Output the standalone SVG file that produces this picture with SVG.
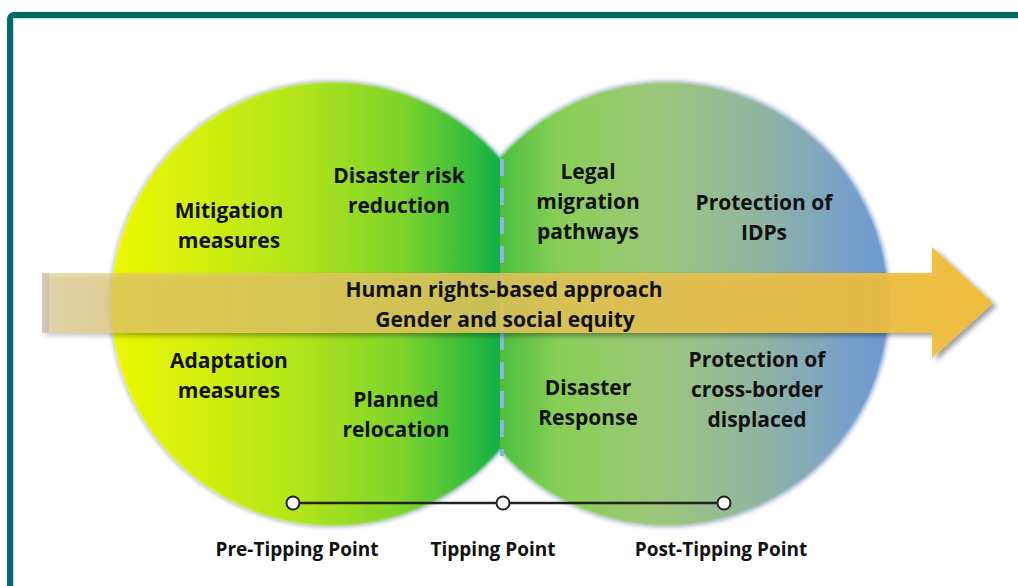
<svg xmlns="http://www.w3.org/2000/svg" width="1018" height="586" viewBox="0 0 1018 586">
  <style>
    .lbl { font-family: "Open Sans", "Liberation Sans", sans-serif; font-weight: 700; font-size: 21px; fill: #111111; text-anchor: middle; }
    .tick { fill: #ffffff; stroke: #222222; stroke-width: 2; }
  </style>
  <defs>
    <linearGradient id="gLeft" gradientUnits="userSpaceOnUse" x1="111" y1="0" x2="500" y2="0">
      <stop offset="0" stop-color="#ecf800"/>
      <stop offset="0.25" stop-color="#d0ef0e"/>
      <stop offset="0.5" stop-color="#aee31c"/>
      <stop offset="0.75" stop-color="#7dd42c"/>
      <stop offset="0.9" stop-color="#3fbf3a"/>
      <stop offset="1" stop-color="#12b046"/>
    </linearGradient>
    <linearGradient id="gRight" gradientUnits="userSpaceOnUse" x1="500" y1="0" x2="889" y2="0">
      <stop offset="0" stop-color="#4cbe40"/>
      <stop offset="0.15" stop-color="#88cf54"/>
      <stop offset="0.4" stop-color="#9cc77a"/>
      <stop offset="0.65" stop-color="#92b69e"/>
      <stop offset="0.88" stop-color="#7aa2c6"/>
      <stop offset="1" stop-color="#6c98d2"/>
    </linearGradient>
    <linearGradient id="gArrow" gradientUnits="userSpaceOnUse" x1="42" y1="0" x2="993" y2="0">
      <stop offset="0" stop-color="#dcc27c" stop-opacity="0.5"/>
      <stop offset="0.07" stop-color="#e2c670" stop-opacity="0.62"/>
      <stop offset="0.1" stop-color="#e4c862" stop-opacity="0.8"/>
      <stop offset="0.5" stop-color="#e2c45a" stop-opacity="0.86"/>
      <stop offset="1" stop-color="#f2bc36" stop-opacity="0.94"/>
    </linearGradient>
    <clipPath id="rightHalf">
      <rect x="500" y="0" width="518" height="586"/>
    </clipPath>
    <filter id="soft" x="-5%" y="-5%" width="110%" height="110%">
      <feGaussianBlur stdDeviation="1.2"/>
    </filter>
    <filter id="halo" x="-5%" y="-5%" width="110%" height="110%">
      <feGaussianBlur stdDeviation="1.5"/>
    </filter>
    <filter id="arrowShadow" x="-2%" y="-20%" width="105%" height="140%">
      <feGaussianBlur in="SourceAlpha" stdDeviation="2.5" result="b"/>
      <feOffset in="b" dx="4" dy="3" result="o"/>
      <feComponentTransfer in="o" result="s">
        <feFuncA type="linear" slope="0.4"/>
      </feComponentTransfer>
      <feMerge>
        <feMergeNode in="s"/>
        <feMergeNode in="SourceGraphic"/>
      </feMerge>
    </filter>
  </defs>

  <rect width="1018" height="586" fill="#ffffff"/>

  <!-- frame: only the top and left edges fall inside the canvas -->
  <rect x="10" y="15" width="1100" height="700" rx="4" fill="none" stroke="#006b66" stroke-width="6"/>
  <rect x="13.5" y="18.5" width="1100" height="700" fill="none" stroke="#bfe0dc" stroke-width="1"/>

  <!-- two overlapping circles -->
  <g id="circle-pre">
    <circle cx="333" cy="304" r="223" fill="none" stroke="#c9cdf2" stroke-width="3" filter="url(#halo)"/>
    <circle cx="333" cy="304" r="222" fill="url(#gLeft)" filter="url(#soft)"/>
  </g>
  <g id="circle-post">
    <circle cx="667" cy="304" r="223" fill="none" stroke="#c9cdf2" stroke-width="3" filter="url(#halo)" clip-path="url(#rightHalf)"/>
    <g clip-path="url(#rightHalf)">
      <circle cx="667" cy="304" r="222" fill="url(#gRight)" filter="url(#soft)"/>
    </g>
  </g>

  <!-- connectors: tipping divider, timeline -->
  <g id="connectors">
    <line x1="502" y1="159" x2="502" y2="456" stroke="#8ab4e2" stroke-width="4" stroke-dasharray="17 12"/>
    <line x1="293" y1="503" x2="724" y2="503" stroke="#222222" stroke-width="2.5"/>
  </g>

  <!-- cross-cutting arrow -->
  <g id="arrow">
    <path d="M42,273 L932,273 L932,247 L993,303 L932,358 L932,333 L42,333 Z" fill="url(#gArrow)" filter="url(#arrowShadow)"/>
    <rect x="42" y="273" width="7" height="60" fill="#b4b4bc" opacity="0.5"/>
    <text class="lbl" x="504" y="297">Human rights-based approach</text>
    <text class="lbl" x="505" y="327">Gender and social equity</text>
  </g>

  <g id="mitigation">
    <text class="lbl" x="229" y="218">Mitigation</text>
    <text class="lbl" x="229" y="248">measures</text>
  </g>
  <g id="drr">
    <text class="lbl" x="399" y="183">Disaster risk</text>
    <text class="lbl" x="399" y="213">reduction</text>
  </g>
  <g id="legal-migration">
    <text class="lbl" x="588" y="179">Legal</text>
    <text class="lbl" x="588" y="209">migration</text>
    <text class="lbl" x="588" y="239">pathways</text>
  </g>
  <g id="idps">
    <text class="lbl" x="764" y="210">Protection of</text>
    <text class="lbl" x="764" y="240">IDPs</text>
  </g>
  <g id="adaptation">
    <text class="lbl" x="229" y="368">Adaptation</text>
    <text class="lbl" x="229" y="398">measures</text>
  </g>
  <g id="relocation">
    <text class="lbl" x="396" y="407">Planned</text>
    <text class="lbl" x="396" y="437">relocation</text>
  </g>
  <g id="response">
    <text class="lbl" x="588" y="395">Disaster</text>
    <text class="lbl" x="588" y="425">Response</text>
  </g>
  <g id="cross-border">
    <text class="lbl" x="757" y="367">Protection of</text>
    <text class="lbl" x="757" y="397">cross-border</text>
    <text class="lbl" x="757" y="427">displaced</text>
  </g>

  <!-- timeline points -->
  <g id="pre-tipping">
    <circle class="tick" cx="293" cy="503" r="6.5"/>
    <text class="lbl" x="297" y="556" style="font-size:19px">Pre-Tipping Point</text>
  </g>
  <g id="tipping">
    <circle class="tick" cx="503" cy="503" r="6.5"/>
    <text class="lbl" x="493" y="556" style="font-size:19px">Tipping Point</text>
  </g>
  <g id="post-tipping">
    <circle class="tick" cx="724" cy="503" r="6.5"/>
    <text class="lbl" x="721" y="556" style="font-size:19px">Post-Tipping Point</text>
  </g>
</svg>
